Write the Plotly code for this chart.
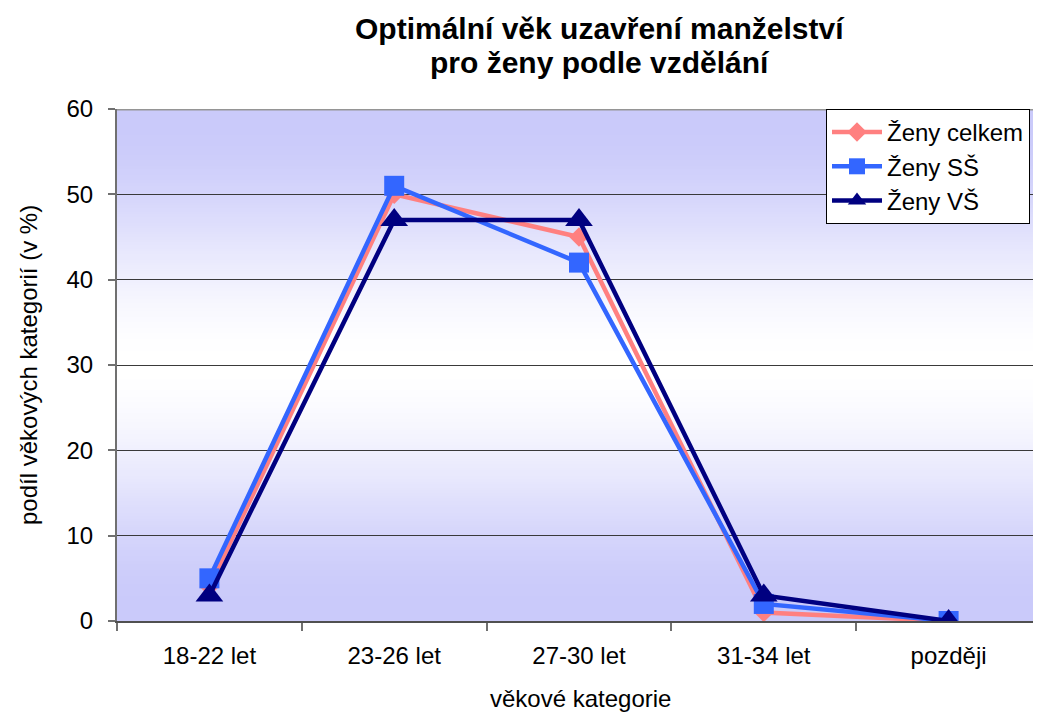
import plotly.graph_objects as go

categories = ["18-22 let", "23-26 let", "27-30 let", "31-34 let", "později"]
zeny_celkem = [4, 50, 45, 1, 0]
zeny_ss = [5, 51, 42, 2, 0]
zeny_vs = [3, 47, 47, 3, 0]
y_ticks = [0, 10, 20, 30, 40, 50, 60]

FONT = "Liberation Sans, Arial, sans-serif"

# page body has an 8px default margin, so the figure is shifted by 8px
W, H = 1033, 707
L, T, B, R = 109, 101, 94, 0
PW, PH = W - L - R, H - T - B


def px_x(x):  # reference pixel x -> paper x
    return (x - 8 - L) / PW


def px_y(y):  # reference pixel y -> paper y
    return (H - B - (y - 8)) / PH


fig = go.Figure()
fig.add_trace(go.Scatter(x=categories, y=zeny_celkem, name="Ženy celkem", mode="lines+markers",
                         line=dict(color="#FF8080", width=4.5),
                         marker=dict(symbol="diamond", size=15, color="#FF8080")))
fig.add_trace(go.Scatter(x=categories, y=zeny_ss, name="Ženy SŠ", mode="lines+markers",
                         line=dict(color="#3366FF", width=4.5),
                         marker=dict(symbol="square", size=20, color="#3366FF")))
fig.add_trace(go.Scatter(x=categories, y=zeny_vs, name="Ženy VŠ", mode="lines+markers",
                         line=dict(color="#000080", width=4.5),
                         marker=dict(symbol="triangle-up", size=24, color="#000080")))

# gradient background: lavender at top and bottom, white in the middle
shapes = []
n = 180
lo, hi = 0.0, 60.0
for i in range(n):
    y0 = lo + (hi - lo) * i / n
    y1 = lo + (hi - lo) * (i + 1) / n
    mid = (y0 + y1) / 2
    t = min(1.0, abs(mid - 30) / 30 * 1.05)
    k = 3 * t * t - 2 * t * t * t
    r = round(255 - (255 - 202) * k)
    g = round(255 - (255 - 202) * k)
    b = round(255 - (255 - 250) * k)
    shapes.append(dict(type="rect", xref="x domain", yref="y", x0=0, x1=1, y0=y0,
                       y1=min(hi, y1 + 0.12),
                       fillcolor=f"rgb({r},{g},{b})", line=dict(width=0), layer="below"))
shapes.append(dict(type="line", xref="x domain", yref="y", x0=0, x1=1, y0=60, y1=60,
                   line=dict(color="#959595", width=3), layer="above"))

annotations = [
    dict(text="<b>Optimální věk uzavření manželství</b>", xref="paper", yref="paper",
         x=px_x(599.5), y=px_y(28), xanchor="center", yanchor="middle", showarrow=False,
         font=dict(family=FONT, size=30, color="black")),
    dict(text="<b>pro ženy podle vzdělání</b>", xref="paper", yref="paper",
         x=px_x(599.5), y=px_y(62), xanchor="center", yanchor="middle", showarrow=False,
         font=dict(family=FONT, size=30, color="black")),
    dict(text="věkové kategorie", xref="paper", yref="paper",
         x=px_x(580), y=px_y(698), xanchor="center", yanchor="middle", showarrow=False,
         font=dict(family=FONT, size=24, color="black")),
    dict(text="podíl věkových kategorií (v %)", xref="paper", yref="paper",
         x=px_x(28), y=px_y(365), xanchor="center", yanchor="middle", showarrow=False,
         textangle=-90, font=dict(family=FONT, size=24, color="black")),
]

fig.update_layout(
    width=W, height=H,
    margin=dict(l=L, r=R, t=T, b=B),
    paper_bgcolor="white", plot_bgcolor="white",
    font=dict(family=FONT, size=24, color="black"),
    shapes=shapes,
    annotations=annotations,
    showlegend=True,
    legend=dict(x=px_x(826), y=1.0, xanchor="left", yanchor="top",
                bgcolor="white", bordercolor="black", borderwidth=1,
                font=dict(family=FONT, size=24), itemwidth=50, tracegroupgap=0),
    xaxis=dict(type="category", range=[-0.5, 4.5], tickson="boundaries", ticks="outside",
               ticklen=8, tickwidth=2, tickcolor="#707070", showline=True, linecolor="#505050",
               linewidth=2, showgrid=False, tickfont=dict(size=24), ticklabelstandoff=12),
    yaxis=dict(range=[0, 60], tickvals=y_ticks, ticks="outside", ticklen=7, tickwidth=2,
               tickcolor="#707070", showline=True, linecolor="#707070", linewidth=2,
               showgrid=True, gridcolor="#3a3a3a", gridwidth=1.3, zeroline=False,
               tickfont=dict(size=24), ticklabelstandoff=10),
)

fig.write_html("out.html")
